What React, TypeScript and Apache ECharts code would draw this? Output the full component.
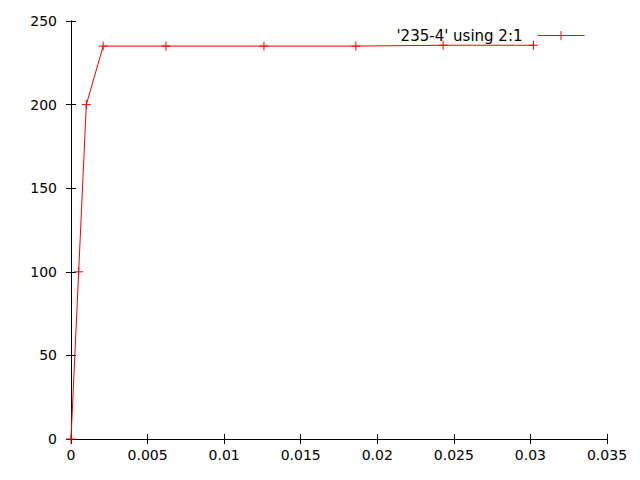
import React, { useEffect, useRef } from "react";
import * as echarts from "echarts";

const strainValues = [0, 0.0005, 0.001, 0.0021, 0.0062, 0.0126, 0.0186, 0.0243, 0.0302];
const stressValues = [0, 100, 200, 235, 235, 235, 235, 235.5, 235.5];
const seriesName = "'235-4' using 2:1";

const FONT = "DejaVu Sans";

export default function App() {
  const ref = useRef<HTMLDivElement>(null);
  useEffect(() => {
    if (!ref.current) return;
    const chart = echarts.init(ref.current, undefined, { renderer: "svg" });
    const data = strainValues.map((x, i) => [x, stressValues[i]]);
    const plus = "path://M5,0 L5,10 M0,5 L10,5";
    const fmtX = (v: number) => String(Number(v.toFixed(4)));
    const common = {
      axisLine: { show: true, lineStyle: { color: "#000", width: 1 } },
      axisTick: { show: true, inside: true, length: 5, lineStyle: { color: "#000" } },
      splitLine: { show: false },
    };
    chart.setOption({
      animation: false,
      backgroundColor: "#fff",
      textStyle: { fontFamily: FONT },
      grid: { left: 71, right: 33, top: 21, bottom: 41, containLabel: false },
      legend: {
        show: true,
        right: 50,
        top: 23,
        align: "right",
        itemWidth: 47,
        itemHeight: 11,
        lineStyle: { width: 1 },
        itemStyle: { borderWidth: 1 },
        textStyle: { fontFamily: FONT, fontSize: 15, color: "#000", padding: [0, 10, 0, 0] },
        data: [{ name: seriesName }],
      },
      xAxis: [
        {
          type: "value",
          min: 0,
          max: 0.035,
          interval: 0.005,
          position: "bottom",
          ...common,
          axisLabel: { color: "#000", fontSize: 14, fontFamily: FONT, margin: 9, formatter: fmtX },
        },
        {
          type: "value",
          min: 0,
          max: 0.035,
          interval: 0.005,
          position: "top",
          ...common,
          axisLabel: { show: false },
        },
      ],
      yAxis: [
        {
          type: "value",
          min: 0,
          max: 250,
          interval: 50,
          position: "left",
          ...common,
          axisLabel: { color: "#000", fontSize: 14, fontFamily: FONT, margin: 14 },
        },
        {
          type: "value",
          min: 0,
          max: 250,
          interval: 50,
          position: "right",
          ...common,
          axisLabel: { show: false },
        },
      ],
      series: [
        {
          name: seriesName,
          type: "line",
          data,
          xAxisIndex: 0,
          yAxisIndex: 0,
          symbol: plus,
          symbolSize: 9,
          showAllSymbol: true,
          lineStyle: { color: "#ff0000", width: 1 },
          itemStyle: { color: "#ff0000", borderColor: "#ff0000", borderWidth: 1 },
          clip: false,
        },
      ],
    });
    return () => chart.dispose();
  }, []);
  return (
    <div
      ref={ref}
      style={{ position: "fixed", left: 0, top: 0, width: 640, height: 480, background: "#fff" }}
    />
  );
}
